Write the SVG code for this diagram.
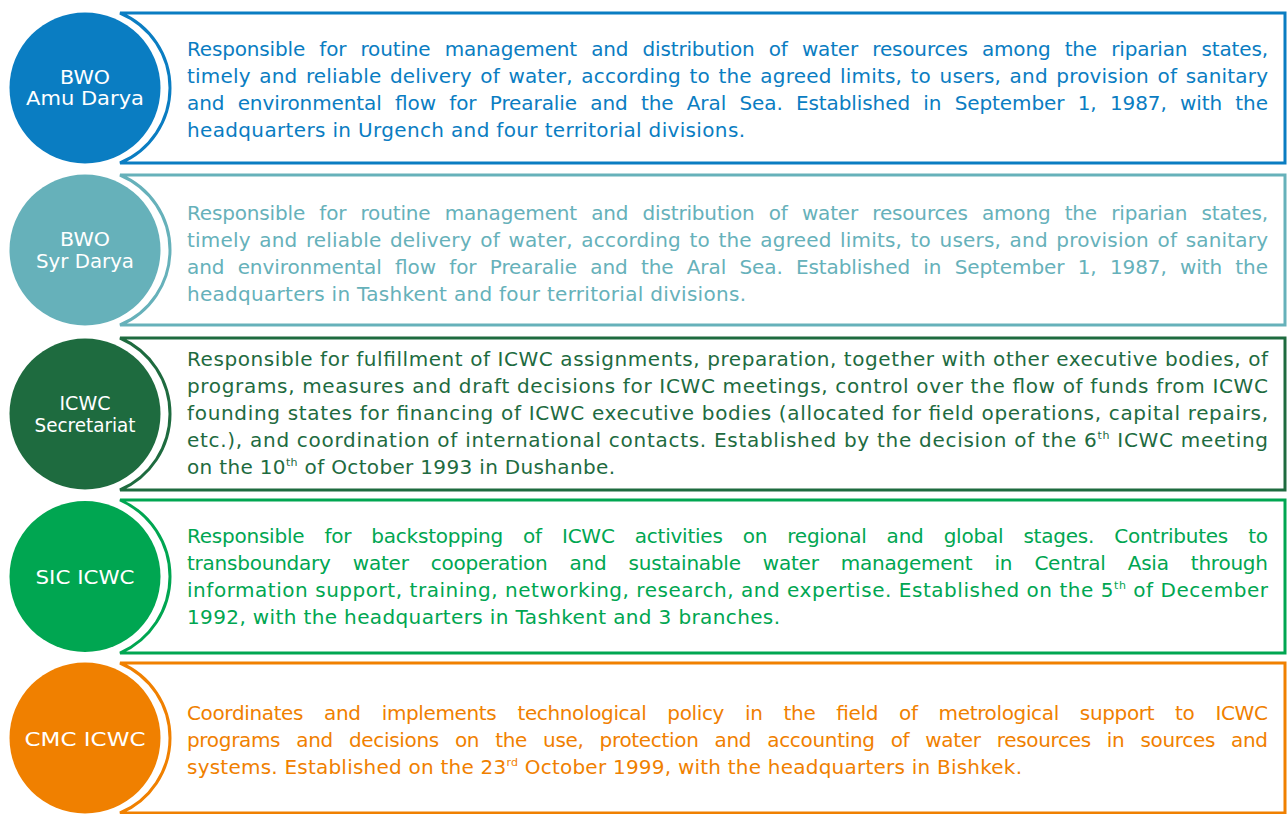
<svg xmlns="http://www.w3.org/2000/svg" width="1287" height="814" viewBox="0 0 1287 814">
<style>
.lbl{font-family:"DejaVu Sans","Liberation Sans",sans-serif;font-size:19px;fill:#fff}
.txt{font-family:"DejaVu Sans","Liberation Sans",sans-serif;font-size:20px}
.sup{font-size:11px}
.frame{fill:#fff;stroke-width:3}
.c1{fill:#0A7DC2}.s1{stroke:#0A7DC2}
.c2{fill:#66B1BA}.s2{stroke:#66B1BA}
.c3{fill:#1E6B3F}.s3{stroke:#1E6B3F}
.c4{fill:#00A651}.s4{stroke:#00A651}
.c5{fill:#F08000}.s5{stroke:#F08000}
</style>
<rect width="1287" height="814" fill="#fff"/>

<g id="bwo-amu-darya">
<path class="frame s1" d="M120,13 H1285 V163 H120 A81.25,81.25 0 0 0 120,13 Z"/>
<circle class="c1" cx="85" cy="88" r="75.5"/>
<text class="lbl" x="60" y="84" textLength="50" lengthAdjust="spacingAndGlyphs">BWO</text>
<text class="lbl" x="26" y="105" textLength="118" lengthAdjust="spacingAndGlyphs">Amu Darya</text>
<g class="txt c1">
<text x="187" y="55.5" textLength="1081" lengthAdjust="spacing" word-spacing="8">Responsible for routine management and distribution of water resources among the riparian states,</text>
<text x="187" y="82.5" textLength="1081" lengthAdjust="spacing" word-spacing="2">timely and reliable delivery of water, according to the agreed limits, to users, and provision of sanitary</text>
<text x="187" y="109.5" textLength="1081" lengthAdjust="spacing" word-spacing="7">and environmental flow for Prearalie and the Aral Sea. Established in September 1, 1987, with the</text>
<text x="187" y="136.5" textLength="558" lengthAdjust="spacing">headquarters in Urgench and four territorial divisions.</text>
</g>
</g>

<g id="bwo-syr-darya">
<path class="frame s2" d="M120,175 H1285 V325 H120 A81.25,81.25 0 0 0 120,175 Z"/>
<circle class="c2" cx="85" cy="250" r="75.5"/>
<text class="lbl" x="60" y="246" textLength="50" lengthAdjust="spacingAndGlyphs">BWO</text>
<text class="lbl" x="36" y="268" textLength="98" lengthAdjust="spacingAndGlyphs">Syr Darya</text>
<g class="txt c2">
<text x="187" y="219.5" textLength="1081" lengthAdjust="spacing" word-spacing="8">Responsible for routine management and distribution of water resources among the riparian states,</text>
<text x="187" y="246.5" textLength="1081" lengthAdjust="spacing" word-spacing="2">timely and reliable delivery of water, according to the agreed limits, to users, and provision of sanitary</text>
<text x="187" y="273.5" textLength="1081" lengthAdjust="spacing" word-spacing="7">and environmental flow for Prearalie and the Aral Sea. Established in September 1, 1987, with the</text>
<text x="187" y="300.5" textLength="559" lengthAdjust="spacing">headquarters in Tashkent and four territorial divisions.</text>
</g>
</g>

<g id="icwc-secretariat">
<path class="frame s3" d="M120,338 H1285 V490 H120 A82.76,82.76 0 0 0 120,338 Z"/>
<circle class="c3" cx="85" cy="414" r="75.5"/>
<text class="lbl" x="59.5" y="410" textLength="51" lengthAdjust="spacingAndGlyphs">ICWC</text>
<text class="lbl" x="34.5" y="432" textLength="101" lengthAdjust="spacingAndGlyphs">Secretariat</text>
<g class="txt c3">
<text x="187" y="365.5" textLength="1081" lengthAdjust="spacing">Responsible for fulfillment of ICWC assignments, preparation, together with other executive bodies, of</text>
<text x="187" y="392.5" textLength="1081" lengthAdjust="spacing">programs, measures and draft decisions for ICWC meetings, control over the flow of funds from ICWC</text>
<text x="187" y="419.5" textLength="1081" lengthAdjust="spacing">founding states for financing of ICWC executive bodies (allocated for field operations, capital repairs,</text>
<text x="187" y="446.5" textLength="1081" lengthAdjust="spacing">etc.), and coordination of international contacts. Established by the decision of the 6<tspan class="sup" dy="-8">th</tspan><tspan dy="8"> ICWC meeting</tspan></text>
<text x="187" y="473.5" textLength="428" lengthAdjust="spacing">on the 10<tspan class="sup" dy="-8">th</tspan><tspan dy="8"> of October 1993 in Dushanbe.</tspan></text>
</g>
</g>

<g id="sic-icwc">
<path class="frame s4" d="M120,500 H1285 V653 H120 A83.52,83.52 0 0 0 120,500 Z"/>
<circle class="c4" cx="85" cy="576.5" r="75.5"/>
<text class="lbl" x="35.5" y="584" textLength="99" lengthAdjust="spacingAndGlyphs">SIC ICWC</text>
<g class="txt c4">
<text x="187" y="543" textLength="1081" lengthAdjust="spacing" word-spacing="14">Responsible for backstopping of ICWC activities on regional and global stages. Contributes to</text>
<text x="187" y="570" textLength="1081" lengthAdjust="spacing" word-spacing="16">transboundary water cooperation and sustainable water management in Central Asia through</text>
<text x="187" y="597" textLength="1081" lengthAdjust="spacing">information support, training, networking, research, and expertise. Established on the 5<tspan class="sup" dy="-8">th</tspan><tspan dy="8"> of December</tspan></text>
<text x="187" y="624" textLength="593" lengthAdjust="spacing">1992, with the headquarters in Tashkent and 3 branches.</text>
</g>
</g>

<g id="cmc-icwc">
<path class="frame s5" d="M120,663 H1285 V813 H120 A81.25,81.25 0 0 0 120,663 Z"/>
<circle class="c5" cx="85" cy="738" r="75.5"/>
<text class="lbl" x="24.5" y="746" textLength="121" lengthAdjust="spacingAndGlyphs">CMC ICWC</text>
<g class="txt c5">
<text x="187" y="720" textLength="1081" lengthAdjust="spacing" word-spacing="15">Coordinates and implements technological policy in the field of metrological support to ICWC</text>
<text x="187" y="747" textLength="1081" lengthAdjust="spacing" word-spacing="10">programs and decisions on the use, protection and accounting of water resources in sources and</text>
<text x="187" y="774" textLength="835" lengthAdjust="spacing">systems. Established on the 23<tspan class="sup" dy="-8">rd</tspan><tspan dy="8"> October 1999, with the headquarters in Bishkek.</tspan></text>
</g>
</g>
</svg>
